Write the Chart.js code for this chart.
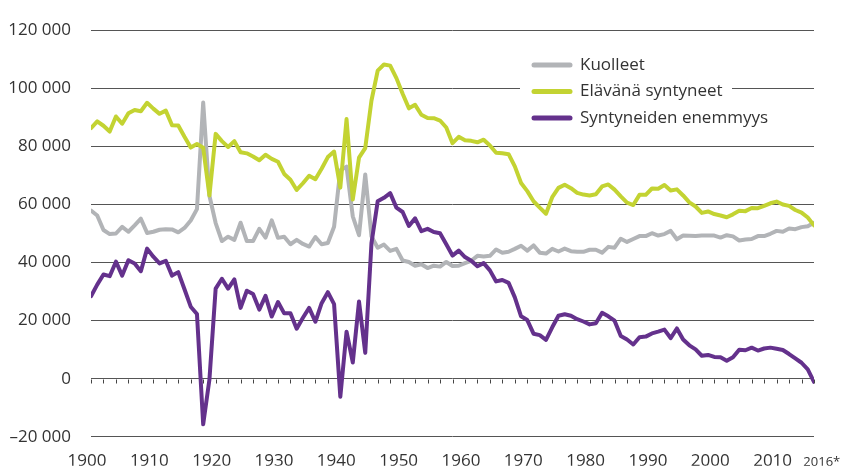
<!DOCTYPE html>
<html>
<head>
<meta charset="utf-8">
<script src="https://cdn.jsdelivr.net/npm/chart.js@4"></script>
<style>
  body { margin: 0; background: #fff; }
  #wrap { position: relative; width: 841px; height: 467px; }
</style>
</head>
<body>
<div id="wrap"><canvas id="popChart" width="841" height="467"></canvas></div>
<script>
// vuodet 1900-2016
var firstYear = 1900;
var lastYear = 2016;
var years = [];
for (var y = firstYear; y <= lastYear; y++) years.push(y);

var tickYears = [1900, 1910, 1920, 1930, 1940, 1950, 1960, 1970, 1980, 1990, 2000, 2010, 2016];
var tickLabels = ['1900', '1910', '1920', '1930', '1940', '1950', '1960', '1970', '1980', '1990', '2000', '2010', '2016*'];

var seriesNames = ['Kuolleet', 'Elävänä syntyneet', 'Syntyneiden enemmyys'];

var kuolleet = [
  57900, 56200, 51200, 49800, 50000, 52300, 50600, 52800, 55100, 50200,
  50600, 51300, 51500, 51400, 50400, 51900, 54500, 58400, 95100, 63000,
  53600, 47400, 48900, 47800, 53700, 47400, 47400, 51600, 48600, 54500,
  48500, 48900, 46300, 47800, 46400, 45500, 48800, 46300, 46700, 52300,
  71800, 73000, 55900, 49400, 70300, 49000, 45100, 46200, 44000, 44700,
  40700, 40200, 38900, 39400, 38100, 38900, 38600, 40200, 38800, 38900,
  39800, 40600, 42300, 42100, 42300, 44500, 43400, 43700, 44700, 45800,
  44100, 45900, 43400, 43100, 44700, 43800, 44800, 43900, 43700, 43700,
  44400, 44400, 43400, 45400, 45100, 48200, 47100, 48100, 49100, 49100,
  50100, 49300, 49800, 50900, 48000, 49300, 49200, 49100, 49300, 49300,
  49300, 48600, 49400, 49000, 47600, 47900, 48100, 49100, 49100, 49900,
  50900, 50600, 51700, 51500, 52200, 52500, 53700
];

var syntyneet = [
  86300, 88600, 87100, 85100, 90300, 87800, 91400, 92500, 92100, 95000,
  93000, 91200, 92300, 87300, 87200, 83300, 79600, 80800, 79500, 63100,
  84300, 81800, 79800, 81800, 78000, 77600, 76500, 75200, 77100, 75700,
  74700, 70500, 68500, 65000, 67300, 69900, 68700, 72300, 76300, 78200,
  65800, 89400, 61700, 76100, 79400, 95800, 106100, 108200, 107800, 103500,
  98100, 93100, 94300, 90900, 89800, 89700, 88900, 86500, 81100, 83300,
  82100, 81900, 81400, 82300, 80300, 77800, 77600, 77300, 73100, 67400,
  64600, 61100, 58900, 56800, 62500, 65700, 66800, 65600, 64000, 63400,
  63100, 63500, 66200, 66900, 65100, 62800, 60600, 59800, 63300, 63300,
  65500, 65400, 66700, 64800, 65200, 63100, 60700, 59300, 57100, 57600,
  56700, 56200, 55600, 56600, 57800, 57700, 58800, 58700, 59500, 60400,
  61000, 60000, 59500, 58100, 57200, 55500, 52800
];

var enemmyys = [
  28400, 32400, 35900, 35300, 40300, 35500, 40800, 39700, 37000, 44800,
  42000, 39700, 40600, 35500, 36700, 30800, 24800, 22300, -15700, -300,
  31000, 34400, 31000, 34200, 24400, 30300, 29200, 23800, 28500, 21400,
  26400, 22500, 22500, 17200, 21000, 24400, 19600, 26000, 29800, 25700,
  -6200, 16200, 5600, 26600, 8900, 46700, 61100, 62300, 63900, 58900,
  57400, 52600, 55200, 50800, 51600, 50500, 50100, 46300, 42400, 44100,
  41900, 40600, 38700, 39800, 37300, 33500, 34000, 33000, 28000, 21500,
  20200, 15500, 15000, 13400, 17700, 21700, 22200, 21700, 20500, 19700,
  18700, 19100, 22700, 21500, 20000, 14700, 13500, 11800, 14300, 14500,
  15600, 16200, 16900, 14000, 17300, 13500, 11500, 10100, 7900, 8200,
  7500, 7400, 6200, 7400, 10000, 9800, 10700, 9700, 10400, 10700,
  10300, 9900, 8500, 7000, 5500, 3200, -1100
];

var colors = ['#b2b4b7', '#c3d332', '#64318c'];
var fontFamily = "'Open Sans', 'Noto Sans', sans-serif";
var textColor = '#333333';

function toPoints(values) {
  return values.map(function (v, i) { return { x: years[i], y: v }; });
}

function fmtThousands(v) {
  if (v === 0) return '0';
  var s = String(Math.abs(v) / 1000) + ' 000';
  return v < 0 ? '\u2013' + s : s;
}

// pienet merkit nollaviivalla joka toinen vuosi
var zeroTicks = {
  id: 'zeroTicks',
  beforeDatasetsDraw: function (chart) {
    var ctx = chart.ctx;
    var xs = chart.scales.x, ys = chart.scales.y;
    var y0 = Math.round(ys.getPixelForValue(0)) + 0.5;
    ctx.save();
    ctx.strokeStyle = '#444';
    ctx.lineWidth = 1;
    ctx.beginPath();
    for (var yr = firstYear; yr <= lastYear; yr += 2) {
      var x = Math.round(xs.getPixelForValue(yr)) + 0.5;
      ctx.moveTo(x, y0);
      ctx.lineTo(x, y0 + 4);
    }
    ctx.stroke();
    ctx.restore();
  }
};

// selite kaavion sisällä
var innerLegend = {
  id: 'innerLegend',
  beforeDatasetsDraw: function (chart) {
    var ctx = chart.ctx;
    ctx.save();
    ctx.fillStyle = '#fff';
    ctx.fillRect(520, 50, 212, 80);
    ctx.lineCap = 'round';
    ctx.lineWidth = 5;
    ctx.font = '17px ' + fontFamily;
    ctx.textBaseline = 'middle';
    ctx.fillStyle = textColor;
    for (var i = 0; i < seriesNames.length; i++) {
      var ly = 65 + i * 26.5;
      ctx.strokeStyle = colors[i];
      ctx.beginPath();
      ctx.moveTo(534, ly);
      ctx.lineTo(570, ly);
      ctx.stroke();
      ctx.fillText(seriesNames[i], 580, ly);
    }
    ctx.restore();
  }
};

var datasets = [kuolleet, syntyneet, enemmyys].map(function (vals, i) {
  return {
    label: seriesNames[i],
    data: toPoints(vals),
    borderColor: colors[i],
    backgroundColor: colors[i],
    borderWidth: 4,
    pointRadius: 0,
    tension: 0,
    borderJoinStyle: 'round',
    borderCapStyle: 'round',
    order: 2 - i
  };
});

new Chart(document.getElementById('popChart').getContext('2d'), {
  type: 'line',
  data: { datasets: datasets },
  options: {
    responsive: false,
    animation: false,
    layout: { padding: { left: 0, right: 27, top: 20, bottom: 0 } },
    plugins: {
      legend: { display: false },
      tooltip: { enabled: false }
    },
    scales: {
      x: {
        type: 'linear',
        min: firstYear,
        max: lastYear,
        afterBuildTicks: function (scale) {
          scale.ticks = tickYears.map(function (v) { return { value: v }; });
        },
        afterFit: function (scale) {
          scale.height = 29;
          // ei ylimääräistä reunatilaa viimeisen merkinnän takia
          scale.paddingLeft = 0;
          scale.paddingRight = 0;
        },
        grid: { display: false, drawTicks: false },
        border: { display: false },
        ticks: {
          autoSkip: false,
          maxRotation: 0,
          padding: 14,
          labelOffset: -4,
          color: textColor,
          font: function (c) {
            var small = c.tick && c.tick.value === lastYear;
            return small
              ? { family: fontFamily, size: 13, lineHeight: 1.8 }
              : { family: fontFamily, size: 17, lineHeight: 1.2 };
          },
          callback: function (value) {
            var idx = tickYears.indexOf(value);
            if (idx < 0) return '';
            // viimeinen merkintä hieman oikealle kuten alkuperäisessä
            return value === lastYear ? '\u00a0\u00a0\u00a0\u00a0\u00a0\u00a0\u00a0' + tickLabels[idx] : tickLabels[idx];
          }
        }
      },
      y: {
        min: -20000,
        max: 120000,
        afterFit: function (scale) { scale.width = 91; },
        border: { display: false },
        grid: { color: '#555555', lineWidth: 1, drawTicks: false },
        ticks: {
          stepSize: 20000,
          padding: 20,
          color: textColor,
          font: { family: fontFamily, size: 17 },
          callback: function (v) { return fmtThousands(v); }
        }
      }
    }
  },
  plugins: [zeroTicks, innerLegend]
});
</script>
</body>
</html>
